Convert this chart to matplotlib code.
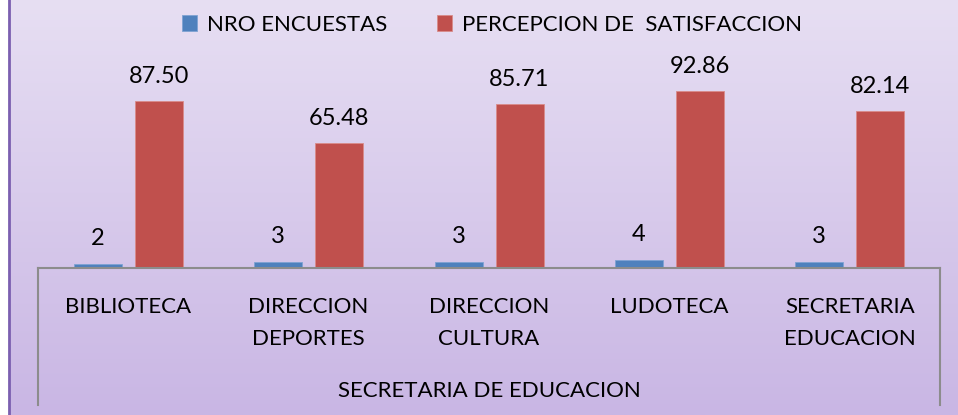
import matplotlib.pyplot as plt
import numpy as np
from matplotlib.patches import Rectangle

# datos
categorias = ['BIBLIOTECA', 'DIRECCION\nDEPORTES', 'DIRECCION\nCULTURA', 'LUDOTECA', 'SECRETARIA\nEDUCACION']
nro_encuestas = [2, 3, 3, 4, 3]
percepcion = [87.50, 65.48, 85.71, 92.86, 82.14]
etiq_percepcion = ['87.50', '65.48', '85.71', '92.86', '82.14']
grupo = 'SECRETARIA DE EDUCACION'
serie_1 = 'NRO ENCUESTAS'
serie_2 = 'PERCEPCION DE  SATISFACCION'

azul = '#4F81BD'
rojo = '#C0504D'

plt.rcParams['font.family'] = ['Lato', 'DejaVu Sans']
W, H = 958, 415
fig = plt.figure(figsize=(W / 100, H / 100), dpi=100)

# fondo degradado
bg = fig.add_axes([0, 0, 1, 1])
grad = np.linspace(0, 1, 256).reshape(-1, 1)
top = np.array([0xE7, 0xDF, 0xF3]) / 255
bot = np.array([0xC9, 0xB6, 0xE4]) / 255
img = top[None, None, :] * (1 - grad[:, :, None]) + bot[None, None, :] * grad[:, :, None]
bg.imshow(img, aspect='auto', extent=[8 / W, 1, 0, 1], origin='upper')
bg.add_patch(Rectangle((0, 0), 8 / W, 1, color='white', transform=bg.transAxes))
bg.plot([9 / W, 9 / W], [0, 1], color='#7B5FB0', lw=2, transform=bg.transAxes)
bg.set_xlim(0, 1)
bg.set_ylim(0, 1)
bg.axis('off')

# ejes
x0, x1 = 38 / W, 940 / W
y_axis = 268
px = 167 / 87.5  # pixeles por unidad
ymax = 100
ax = fig.add_axes([x0, (H - y_axis) / H, x1 - x0, ymax * px / H])
ax.patch.set_alpha(0)
ax.set_xlim(-0.5, len(categorias) - 0.5)
ax.set_ylim(0, ymax)

x = np.arange(len(categorias))
bw = 48 / 180.4
off = 30.5 / 180.4
ax.bar(x - off, nro_encuestas, bw, color=azul, edgecolor='#7FA3D3', linewidth=0.6, label=serie_1)
ax.bar(x + off, percepcion, bw, color=rojo, edgecolor='#D98C8A', linewidth=0.6, label=serie_2)

for i in range(len(categorias)):
    ax.text(x[i] - off, nro_encuestas[i] + 19 / px, str(nro_encuestas[i]), ha='center', va='baseline', fontsize=17)
    ax.text(x[i] + off, percepcion[i] + 18 / px, etiq_percepcion[i], ha='center', va='baseline', fontsize=17)

for s in ['top', 'right', 'left']:
    ax.spines[s].set_visible(False)
ax.spines['bottom'].set_color('#8C8C8C')
ax.spines['bottom'].set_linewidth(1.5)
ax.set_yticks([])
ax.set_xticks([])

# etiquetas de categoria
for i, c in enumerate(categorias):
    for j, linea in enumerate(c.split('\n')):
        ax.text(x[i], (y_axis - 313 - 32 * j) / px, linea, ha='center', va='baseline', fontsize=16)
ax.text(2, (y_axis - 397) / px, grupo, ha='center', va='baseline', fontsize=16)

# lineas verticales de los extremos
yb = (y_axis - 405) / px
for xv in [-0.5, len(categorias) - 0.5]:
    ax.plot([xv, xv], [0, yb], color='#8C8C8C', lw=1.5, clip_on=False)

leg = fig.legend(loc='center', bbox_to_anchor=(492 / W, 1 - 25 / H), ncol=2, frameon=False,
                 fontsize=16, handlelength=0.7, handleheight=0.7, columnspacing=2.2, handletextpad=0.45)

fig.savefig('out.png', dpi=100)
